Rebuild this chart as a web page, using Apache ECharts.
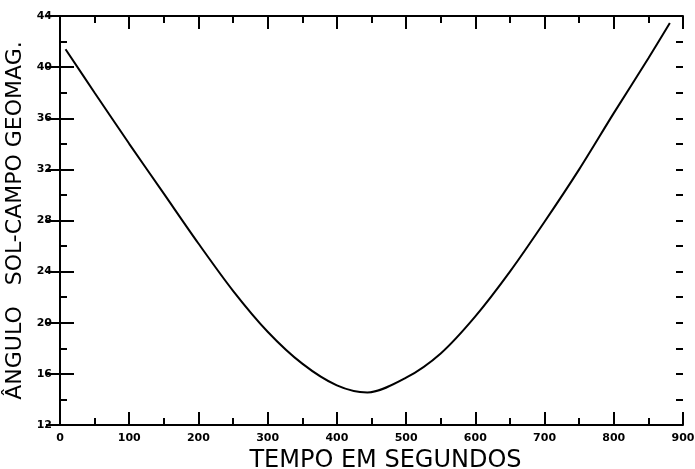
<!DOCTYPE html>
<html>
<head>
<meta charset="utf-8">
<script src="https://cdn.jsdelivr.net/npm/echarts@6/dist/echarts.min.js"></script>
<style>
  html, body { margin: 0; padding: 0; background: #fff; }
  #chart { width: 695px; height: 469px; }
</style>
</head>
<body>
<div id="chart"></div>
<script>
// tempo (s) e ângulo (graus)
const tempo = [8, 50, 100, 150, 200, 250, 300, 350, 400, 444, 500, 550, 600, 650, 700, 750, 800, 850, 881]
const angulo = [41.4, 38.0, 34.0, 30.1, 26.2, 22.5, 19.3, 16.8, 15.1, 14.55, 15.7, 17.6, 20.5, 24.0, 27.9, 32.0, 36.4, 40.7, 43.45]

const xName = 'TEMPO EM SEGUNDOS'
const yName = 'ÂNGULO   SOL-CAMPO GEOMAG.'

const chart = echarts.init(document.getElementById('chart'))

const tickStyle = { color: '#000', width: 2 }
const labelFont = { color: '#000', fontFamily: 'DejaVu Sans', fontWeight: 'bold', fontSize: 11 }
const gridBox = { left: 60, right: 12, top: 16, bottom: 44, containLabel: false, outerBoundsMode: 'none' }

const xBase = {
  type: 'value',
  gridIndex: 0,
  min: 0,
  max: 900,
  interval: 100,
  axisLine: { show: true, lineStyle: { color: '#000', width: 2 } },
  axisTick: { show: true, inside: true, length: 13, lineStyle: tickStyle },
  minorTick: { show: true, splitNumber: 2, length: 7, lineStyle: tickStyle },
  splitLine: { show: false }
}
// y ticks: major (every 4) on grid 0, minor (every 2) on grid 1 stacked on top
const yMajor = {
  type: 'value',
  gridIndex: 0,
  min: 12,
  max: 44,
  interval: 4,
  axisLine: { show: true, lineStyle: { color: '#000', width: 2 } },
  axisTick: { show: true, inside: true, length: 14, lineStyle: tickStyle },
  splitLine: { show: false }
}
const yMinor = {
  type: 'value',
  gridIndex: 1,
  min: 12,
  max: 44,
  interval: 2,
  axisLine: { show: false },
  axisTick: { show: true, inside: true, length: 7, lineStyle: tickStyle },
  axisLabel: { show: false },
  splitLine: { show: false }
}

chart.setOption({
  animation: false,
  backgroundColor: '#fff',
  grid: [Object.assign({}, gridBox), Object.assign({}, gridBox)],
  xAxis: [
    Object.assign({}, xBase, {
      position: 'bottom',
      axisLabel: Object.assign({ margin: 8 }, labelFont),
      name: xName,
      nameLocation: 'middle',
      nameGap: 20,
      nameTextStyle: { color: '#000', fontFamily: 'DejaVu Sans', fontSize: 24, padding: [0, 0, 0, 28] }
    }),
    Object.assign({}, xBase, { position: 'top', axisLabel: { show: false } }),
    { type: 'value', gridIndex: 1, min: 0, max: 900, show: false }
  ],
  yAxis: [
    Object.assign({}, yMajor, {
      position: 'left',
      axisLabel: Object.assign({ margin: 8 }, labelFont),
      name: yName,
      nameLocation: 'middle',
      nameRotate: 90,
      nameGap: 26,
      nameTextStyle: { color: '#000', fontFamily: 'DejaVu Sans', fontSize: 22 }
    }),
    Object.assign({}, yMajor, { position: 'right', axisLabel: { show: false } }),
    Object.assign({}, yMinor, { position: 'left' }),
    Object.assign({}, yMinor, { position: 'right' })
  ],
  series: [
    {
      type: 'line',
      xAxisIndex: 0,
      yAxisIndex: 0,
      data: tempo.map((t, i) => [t, angulo[i]]),
      smooth: 0.3,
      showSymbol: false,
      lineStyle: { color: '#000', width: 2 }
    }
  ]
})
</script>
</body>
</html>
